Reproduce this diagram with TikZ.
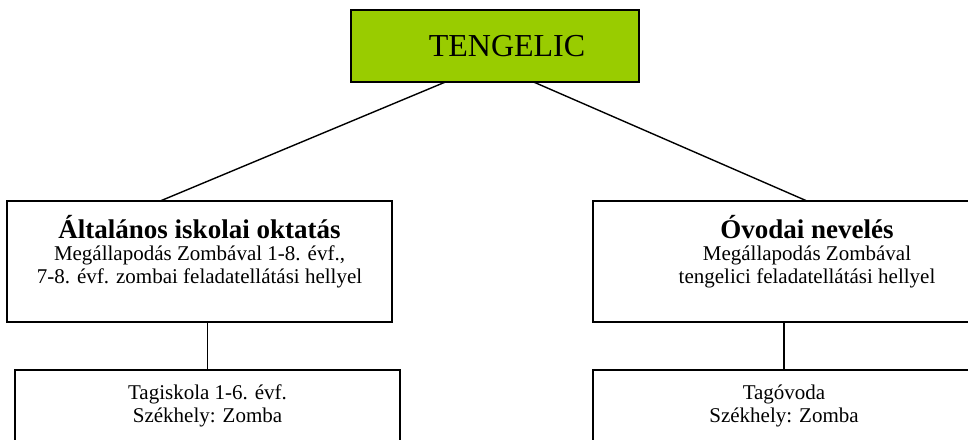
\documentclass[tikz,border=0pt]{standalone}
\usepackage{fontspec}
\setmainfont{Liberation Serif}
\definecolor{limegreen}{HTML}{99CC00}

\begin{document}
\begin{tikzpicture}[x=1pt,y=-1pt,inner sep=0pt,outer sep=0pt,line width=1.4pt,
orgbox/.style={draw,rectangle,line width=2pt,align=center,font=\fontsize{21}{22.5}\selectfont},
headtext/.style={font=\fontsize{27}{23}\selectfont\bfseries}]

\useasboundingbox (0,0) rectangle (968,439);
\clip (0,0) rectangle (968,439);

\draw (495,46) node[orgbox,fill=limegreen,minimum width=288pt,minimum height=72pt,font=\fontsize{32}{36}\selectfont] (top) {\hspace*{24pt}TENGELIC};
\draw (199.5,261.5) node[orgbox,minimum width=385pt,minimum height=121pt] (iskola) {{\fontsize{27}{23}\selectfont\bfseries Általános iskolai oktatás}\\Megállapodás Zombával 1-8. évf.,\\7-8. évf. zombai feladatellátási hellyel\\[2pt]\mbox{}};
\draw (807,261.5) node[orgbox,minimum width=428pt,minimum height=121pt] (ovoda) {{\fontsize{27}{23}\selectfont\bfseries Óvodai nevelés}\\Megállapodás Zombával\\tengelici feladatellátási hellyel\\[2pt]\mbox{}};
\draw (207.5,406) node[orgbox,minimum width=385pt,minimum height=72pt] (tagiskola) {Tagiskola 1-6. évf.\\Székhely: Zomba};
\draw (784,406) node[orgbox,minimum width=382pt,minimum height=72pt] (tagovoda) {Tagóvoda\\Székhely: Zomba};

\draw (top.216.9) -- (iskola.123.1);
\draw (top.-43.5) -- (ovoda.north);
\draw (tagiskola.north) -- (tagiskola.north |- iskola.south);
\draw (tagovoda.north) -- (tagovoda.north |- ovoda.south);
\end{tikzpicture}
\end{document}
